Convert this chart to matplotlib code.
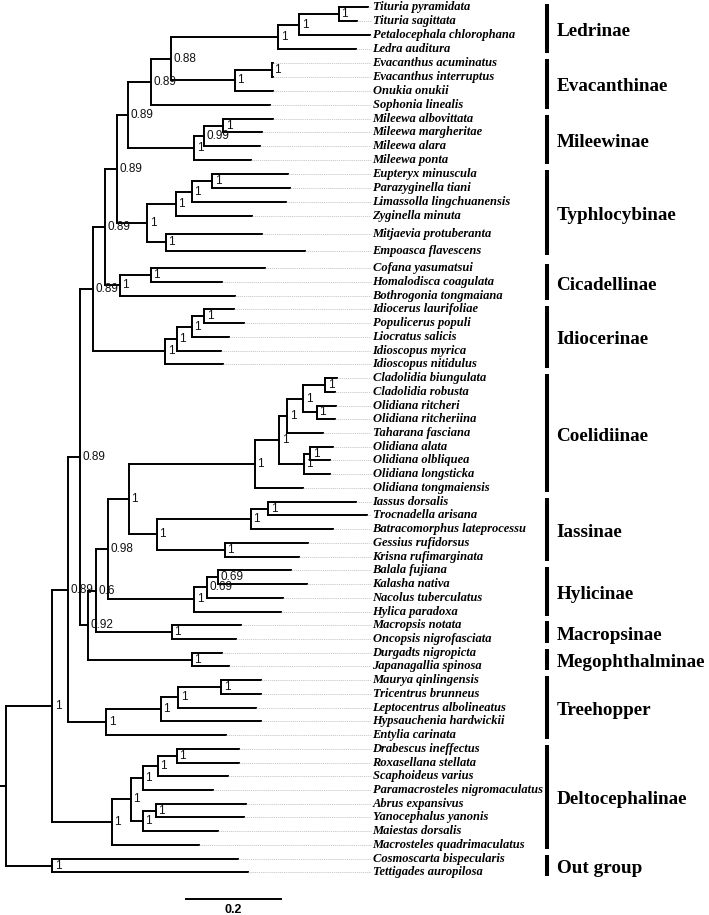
import matplotlib
matplotlib.use("Agg")
import matplotlib.pyplot as plt

# ---------------- data ----------------
taxa = [
    "Tituria pyramidata", "Tituria sagittata", "Petalocephala chlorophana", "Ledra auditura",
    "Evacanthus acuminatus", "Evacanthus interruptus", "Onukia onukii", "Sophonia linealis",
    "Mileewa albovittata", "Mileewa margheritae", "Mileewa alara", "Mileewa ponta",
    "Eupteryx minuscula", "Parazyginella tiani", "Limassolla lingchuanensis", "Zyginella minuta",
    "Mitjaevia protuberanta", "Empoasca flavescens",
    "Cofana yasumatsui", "Homalodisca coagulata", "Bothrogonia tongmaiana",
    "Idiocerus laurifoliae", "Populicerus populi", "Liocratus salicis", "Idioscopus myrica",
    "Idioscopus nitidulus",
    "Cladolidia biungulata", "Cladolidia robusta", "Olidiana ritcheri", "Olidiana ritcheriina",
    "Taharana fasciana", "Olidiana alata", "Olidiana olbliquea", "Olidiana longsticka",
    "Olidiana tongmaiensis",
    "Iassus dorsalis", "Trocnadella arisana", "Batracomorphus lateprocessu", "Gessius rufidorsus",
    "Krisna rufimarginata",
    "Balala fujiana", "Kalasha nativa", "Nacolus tuberculatus", "Hylica paradoxa",
    "Macropsis notata", "Oncopsis nigrofasciata",
    "Durgadts nigropicta", "Japanagallia spinosa",
    "Maurya qinlingensis", "Tricentrus brunneus", "Leptocentrus albolineatus",
    "Hypsauchenia hardwickii", "Entylia carinata",
    "Drabescus ineffectus", "Roxasellana stellata", "Scaphoideus varius",
    "Paramacrosteles nigromaculatus", "Abrus expansivus", "Yanocephalus yanonis",
    "Maiestas dorsalis", "Macrosteles quadrimaculatus",
    "Cosmoscarta bispecularis", "Tettigades auropilosa",
]

# root-to-tip distance of each taxon (substitutions/site)
tip_depth = [
    0.762, 0.739, 0.766, 0.737,
    0.563, 0.563, 0.562, 0.556,
    0.562, 0.539, 0.535, 0.516,
    0.594, 0.598, 0.589, 0.517,
    0.538, 0.629,
    0.545, 0.455, 0.482,
    0.479, 0.502, 0.470, 0.453, 0.456,
    0.697, 0.693, 0.695, 0.693, 0.668, 0.689, 0.682, 0.682, 0.626,
    0.737, 0.760, 0.689, 0.636, 0.617,
    0.601, 0.633, 0.584, 0.579,
    0.495, 0.484,
    0.455, 0.470,
    0.536, 0.536, 0.526, 0.536, 0.463,
    0.491, 0.491, 0.467, 0.436, 0.505, 0.502, 0.447, 0.407,
    0.489, 0.509,
]

# internal clades: first / last taxon (1-based), depth from root, support
clade_first = [1, 1, 1, 5, 5, 1, 1, 9, 9, 9, 1, 13, 13, 13, 17, 13, 1, 19, 19, 1,
               22, 22, 22, 22, 1, 27, 29, 27, 27, 32, 32, 27, 27, 36, 36, 39, 36, 27,
               41, 41, 41, 27, 45, 27, 47, 27, 1, 49, 49, 49, 49, 1,
               54, 54, 54, 58, 58, 54, 54, 1, 62, 1]
clade_last = [2, 3, 4, 6, 7, 7, 8, 10, 11, 12, 12, 14, 15, 16, 18, 18, 18, 20, 21, 21,
              23, 24, 25, 26, 26, 28, 30, 30, 31, 33, 34, 34, 35, 37, 38, 40, 40, 40,
              42, 43, 44, 44, 46, 46, 48, 48, 48, 50, 51, 52, 53, 53,
              55, 56, 57, 59, 60, 60, 61, 61, 63, 63]
clade_depth = [0.701, 0.617, 0.573, 0.560, 0.482, 0.347, 0.305, 0.457, 0.417, 0.396, 0.257,
               0.434, 0.391, 0.357, 0.336, 0.297, 0.234, 0.305, 0.240, 0.208,
               0.417, 0.391, 0.359, 0.335, 0.183,
               0.672, 0.654, 0.626, 0.592, 0.641, 0.627, 0.575, 0.524,
               0.552, 0.515, 0.460, 0.317, 0.258,
               0.447, 0.423, 0.396, 0.215, 0.349, 0.189, 0.391, 0.173, 0.156,
               0.453, 0.363, 0.326, 0.211, 0.131,
               0.359, 0.319, 0.288, 0.315, 0.288, 0.263, 0.223, 0.097, 0.097, 0.0]
clade_support = ["1", "1", "1", "1", "1", "0.88", "0.89", "1", "0.99", "1", "0.89",
                 "1", "1", "1", "1", "1", "0.89", "1", "1", "0.89",
                 "1", "1", "1", "1", "0.89",
                 "1", "1", "1", "1", "1", "1", "1", "1",
                 "1", "1", "1", "1", "1",
                 "0.69", "0.69", "1", "0.98", "1", "0.6", "1", "0.92", "0.89",
                 "1", "1", "1", "1", "0.89",
                 "1", "1", "1", "1", "1", "1", "1", "1", "1", ""]

group_names = ["Ledrinae", "Evacanthinae", "Mileewinae", "Typhlocybinae", "Cicadellinae",
               "Idiocerinae", "Coelidiinae", "Iassinae", "Hylicinae", "Macropsinae",
               "Megophthalminae", "Treehopper", "Deltocephalinae", "Out group"]
group_first = [1, 5, 9, 13, 19, 22, 27, 36, 41, 45, 47, 49, 54, 62]
group_last = [4, 8, 12, 18, 21, 26, 35, 40, 44, 46, 48, 53, 61, 63]

scale_length = 0.2

# ---------------- layout ----------------
W, H, DPI = 709, 915, 100
PX_PER_UNIT = 475.0
ROOT_PX = 6.0

def px(xp):
    return (xp - ROOT_PX) / PX_PER_UNIT

row_gaps = [13.91] * 15 + [18.0, 16.7, 17.6] + [13.73] * 44
leaf_y = [7.3]
for g in row_gaps:
    leaf_y.append(leaf_y[-1] + g)

fig = plt.figure(figsize=(W / DPI, H / DPI), dpi=DPI)
ax = fig.add_axes([0, 0, 1, 1])
ax.set_xlim(px(0), px(W))
ax.set_ylim(H, 0)
ax.axis("off")

LW = 1.4
clades = [(f - 1, l - 1, d, s) for f, l, d, s in
          zip(clade_first, clade_last, clade_depth, clade_support)]


def children_of(ci):
    f, l, _, _ = clades[ci]
    kids = []
    pos = f
    while pos <= l:
        best = None
        for cj in range(len(clades)):
            if cj == ci:
                continue
            a, b = clades[cj][0], clades[cj][1]
            if a == pos and b <= l and (b - a) < (l - f):
                if best is None or (b - a) > (clades[best][1] - clades[best][0]):
                    best = cj
        if best is None:
            kids.append(("leaf", pos))
            pos += 1
        else:
            kids.append(("clade", best))
            pos = clades[best][1] + 1
    return kids

node_y = {}


def ypos(kind, idx):
    if kind == "leaf":
        return leaf_y[idx]
    if idx in node_y:
        return node_y[idx]
    kids = children_of(idx)
    y = (ypos(*kids[0]) + ypos(*kids[-1])) / 2.0
    node_y[idx] = y
    return y


def depth(kind, idx):
    return tip_depth[idx] if kind == "leaf" else clades[idx][2]

for ci in range(len(clades)):
    kids = children_of(ci)
    d = clades[ci][2]
    ys = [ypos(*k) for k in kids]
    ax.plot([d, d], [ys[0], ys[-1]], color="black", lw=LW, solid_capstyle="projecting")
    for k, yk in zip(kids, ys):
        ax.plot([d, depth(*k)], [yk, yk], color="black", lw=LW, solid_capstyle="projecting")
    sup = clades[ci][3]
    if sup:
        ax.text(d + 2.5 / PX_PER_UNIT, ypos("clade", ci), sup, fontsize=8.5,
                family="Liberation Sans", va="center", ha="left", color="#111111")

# root stub
root = len(clades) - 1
ax.plot([px(0), 0], [ypos("clade", root)] * 2, color="black", lw=LW)

# guide lines and taxon labels
label_x = px(372.5)
for i, name in enumerate(taxa):
    if tip_depth[i] < px(371):
        ax.plot([tip_depth[i], px(371)], [leaf_y[i]] * 2, color="#c4c4c4", lw=0.6,
                ls=(0, (1.5, 1.0)))
    ax.text(label_x, leaf_y[i], name, fontsize=9, family="Liberation Serif",
            style="italic", weight="bold", va="center", ha="left")

# group bars and names
bar_x = px(547)
for name, f, l in zip(group_names, group_first, group_last):
    top = leaf_y[f - 1] - 3.8
    bot = leaf_y[l - 1] + 4.0
    ax.plot([bar_x, bar_x], [top, bot], color="black", lw=2.9, solid_capstyle="butt")
    ax.text(px(556.5), (top + bot) / 2 + 3, name, fontsize=13.8, family="Liberation Serif",
            weight="bold", va="center", ha="left")

# scale bar
sb_x0 = px(186)
ax.plot([sb_x0, sb_x0 + scale_length], [899, 899], color="black", lw=LW)
ax.text(sb_x0 + scale_length / 2, 910, f"{scale_length}", fontsize=9, weight="bold",
        family="Liberation Sans", ha="center", va="center")

fig.savefig("out.png", dpi=DPI)
